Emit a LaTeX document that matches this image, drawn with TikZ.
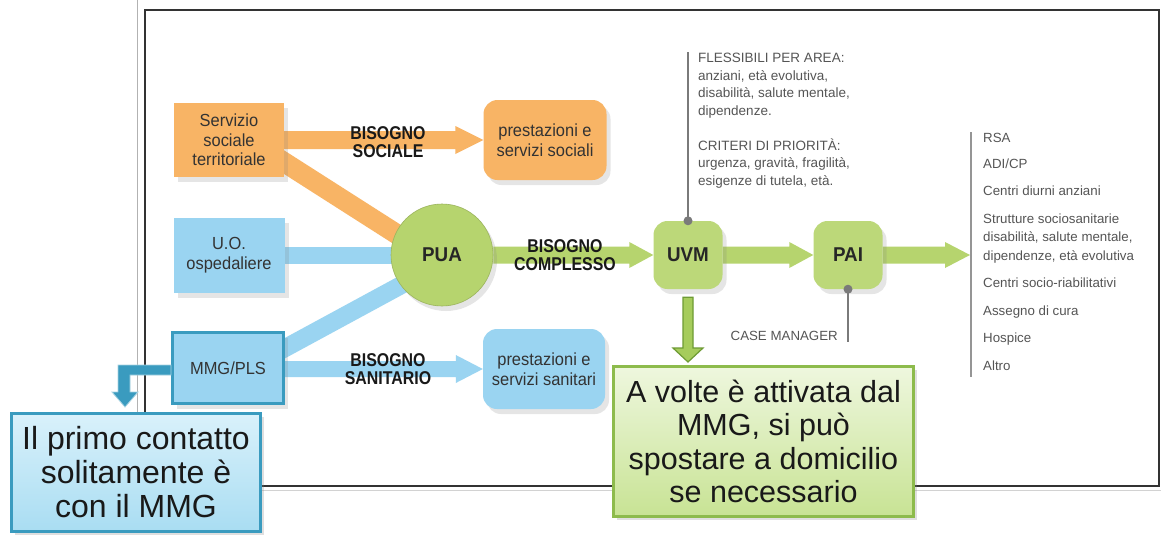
\documentclass[tikz,border=0pt]{standalone}
\usepackage{fontspec}
\setmainfont{Liberation Sans}
\newfontfamily\cnd[FakeStretch=0.94]{Liberation Sans}
\newfontfamily\cndl[FakeStretch=0.86]{Liberation Sans}
\usetikzlibrary{calc,shadows}
\pgfdeclarelayer{framelayer}
\pgfdeclarelayer{barlayer}
\pgfsetlayers{framelayer,barlayer,main}
\definecolor{org}{HTML}{F8B465}
\definecolor{blu}{HTML}{9AD4F1}
\definecolor{tealc}{HTML}{3A9BBF}
\definecolor{grn}{HTML}{B6D46E}
\definecolor{grnbox}{HTML}{BCD879}
\definecolor{gtxt}{HTML}{555555}
\definecolor{gline}{HTML}{7A7A7A}
\definecolor{dgrn}{HTML}{6E9B34}
\definecolor{garr}{HTML}{A6CC5C}
\definecolor{txt}{HTML}{333333}
\definecolor{cgborder}{HTML}{8DBB4C}
\definecolor{cgtop}{HTML}{EEF7DE}
\definecolor{cgbot}{HTML}{C8E394}
\definecolor{cbtop}{HTML}{D9F1FB}
\definecolor{cbbot}{HTML}{A9DDF2}
\newcommand{\hblock}[6]{%
  \fill[#1] ($#2+(0,-#4)$) -- ($#3+(-#6,-#4)$) -- ($#3+(-#6,-#5)$) -- #3
    -- ($#3+(-#6,#5)$) -- ($#3+(-#6,#4)$) -- ($#2+(0,#4)$) -- cycle;}
\begin{document}
\begin{tikzpicture}[x=1pt,y=-1pt,
  shd/.style={drop shadow={opacity=0.2,shadow xshift=4pt,shadow yshift=-5pt}},
  box/.style={minimum width=110pt,minimum height=74pt,align=center,text=txt,
    font=\cnd\fontsize{17.5}{19.5}\selectfont,shd},
  rbox/.style={box,rounded corners=14pt,minimum width=123pt,minimum height=80pt},
  lbl/.style={align=center,font=\cndl\bfseries\fontsize{18.5}{18.5}\selectfont,text=black!90},
  ukey/.style={font=\cnd\bfseries\fontsize{20}{22}\selectfont,text=black!85},
  sqbox/.style={rounded corners=14pt,fill=grnbox,minimum width=69pt,minimum height=68pt,shd,ukey},
  gtext/.style={text=gtxt,font=\fontsize{13.3}{18.5}\selectfont,inner sep=0pt},
  gcallout/.style={draw=cgborder,line width=3pt,top color=cgtop,bottom color=cgbot,
    minimum width=300pt,minimum height=150pt,align=center,
    font=\fontsize{30.5}{33.3}\selectfont,text=black!90,
    drop shadow={opacity=0.25,shadow xshift=3pt,shadow yshift=-3pt}},
  bcallout/.style={draw=tealc,line width=3pt,top color=cbtop,bottom color=cbbot,
    minimum width=249pt,minimum height=118pt,align=center,
    font=\fontsize{32}{34}\selectfont,text=black!90,
    drop shadow={opacity=0.25,shadow xshift=3pt,shadow yshift=-3pt}}
]
\useasboundingbox (0,0) rectangle (1161,536);

\begin{pgfonlayer}{framelayer}
\fill[white] (0,0) rectangle (1161,536);
\draw[gray!60,line width=0.8pt] (137,0) -- (137,412);
\draw[gray!35,line width=1pt] (145,490) -- (1161,490);
\draw[black!80,line width=2pt] (145,10) rectangle (1159,486);
\end{pgfonlayer}

% main nodes
\node[box,fill=org] (srv) at (229,140) {Servizio\\sociale\\territoriale};
\node[rbox,fill=org] (soc) at (545,140) {prestazioni e\\servizi sociali};
\node[box,fill=blu,minimum width=111pt,minimum height=75pt] (uo) at (229,255) {U.O.\\ospedaliere};
\node[box,fill=blu,draw=tealc,line width=3pt,minimum width=111pt,minimum height=71pt] (mmg) at (228,368) {MMG/PLS};
\node[rbox,fill=blu,minimum width=122pt] (san) at (544,369) {prestazioni e\\servizi sanitari};
\node[circle,fill=grn,draw=grn!85!black,line width=0.6pt,minimum size=102pt,shd,ukey] (pua) at (442,255) {PUA};
\node[sqbox] (uvm) at (688,255) {UVM};
\node[sqbox] (pai) at (848,255) {PAI};

% labels
\node[lbl] (lsoc) at (388,142) {BISOGNO\\SOCIALE};
\node[lbl] (lcom) at (565,255) {BISOGNO\\COMPLESSO};
\node[lbl] (lsan) at (388,369) {BISOGNO\\SANITARIO};

\coordinate (mmgout) at (mmg.east |- san.west);
\coordinate (listtip) at (970,255);

\begin{pgfonlayer}{barlayer}
\draw[org,line width=20pt] ($(srv.center)+(0,-13)$) -- ($(pua.center)+(0,8)$);
\draw[blu,line width=17pt] (uo.center) -- (pua.center);
\draw[blu,line width=18pt] ($(mmg.center)+(0,11)$) -- ($(pua.center)+(0,8)$);
\hblock{org}{(srv.east)}{(soc.west)}{9}{14}{28}
\hblock{blu}{(mmgout)}{(san.west)}{8}{14}{27}
\hblock{grn}{(pua.east)}{(uvm.west)}{8.5}{13}{24}
\hblock{grn}{(uvm.east)}{(pai.west)}{8.5}{13}{24}
\hblock{grn}{(pai.east)}{(listtip)}{8.5}{13}{25}
\end{pgfonlayer}

% gray connectors
\coordinate (flextop) at (688,52);
\draw[gline,line width=1.8pt] (uvm.north) -- (flextop);
\fill[gline] (uvm.north) circle (4.5pt);
\coordinate (cmbot) at (848,342);
\draw[gline,line width=1.5pt] (pai.south) -- (cmbot);
\fill[gline] (pai.south) circle (4.5pt);
\coordinate (lt) at (971,132);
\coordinate (lb) at (971,377);
\draw[gline!80,line width=1.2pt] (lt) -- (lb);

% gray texts
\node[gtext,anchor=north west,align=left,font=\fontsize{13.5}{17.5}\selectfont] (flex) at (698,53)
 {FLESSIBILI PER AREA:\\anziani, età evolutiva,\\disabilità, salute mentale,\\dipendenze.\\[17.5pt]CRITERI DI PRIORITÀ:\\urgenza, gravità, fragilità,\\esigenze di tutela, età.};
\node[gtext,anchor=base east] (cm) at (838,340) {CASE MANAGER};
\node[gtext,anchor=base west] (i1) at (983,142) {RSA};
\node[gtext,anchor=base west] (i2) at (983,168) {ADI/CP};
\node[gtext,anchor=base west] (i3) at (983,195) {Centri diurni anziani};
\node[gtext,anchor=north west,align=left] (i4) at (983,213.3) {Strutture sociosanitarie\\disabilità, salute mentale,\\dipendenze, età evolutiva};
\node[gtext,anchor=base west] (i5) at (983,287) {Centri socio-riabilitativi};
\node[gtext,anchor=base west] (i6) at (983,315) {Assegno di cura};
\node[gtext,anchor=base west] (i7) at (983,342) {Hospice};
\node[gtext,anchor=base west] (i8) at (983,370) {Altro};

% callouts
\node[gcallout] (gcall) at (763.5,441.5) {A volte è attivata dal\\MMG, si può\\spostare a domicilio\\se necessario};
\node[bcallout] (pcall) at (136,472.5) {Il primo contatto\\solitamente è\\con il MMG};

% teal elbow arrow
\filldraw[fill=tealc,draw=tealc!45!white,line width=0.8pt]
  ($(mmg.west)+(0,-3)$) -- ($(mmg.west)+(-53,-3)$) -- ($(mmg.west)+(-53,24)$)
  -- ($(mmg.west)+(-59,24)$) -- ($(mmg.west)+(-46,39)$) -- ($(mmg.west)+(-33,24)$)
  -- ($(mmg.west)+(-41,24)$) -- ($(mmg.west)+(-41,7)$) -- ($(mmg.west)+(0,7)$) -- cycle;

% green down arrow
\coordinate (dnS) at ($(uvm.south)+(0,8)$);
\coordinate (dnB) at (uvm.south |- gcall.north);
\coordinate (dnT) at ($(dnB)+(0,-3)$);
\filldraw[fill=garr,draw=dgrn,line width=1.2pt]
  ($(dnS)+(-5,0)$) -- ($(dnT)+(-5,-14)$) -- ($(dnT)+(-15,-14)$) -- (dnT)
  -- ($(dnT)+(15,-14)$) -- ($(dnT)+(5,-14)$) -- ($(dnS)+(5,0)$) -- cycle;
\end{tikzpicture}
\end{document}
